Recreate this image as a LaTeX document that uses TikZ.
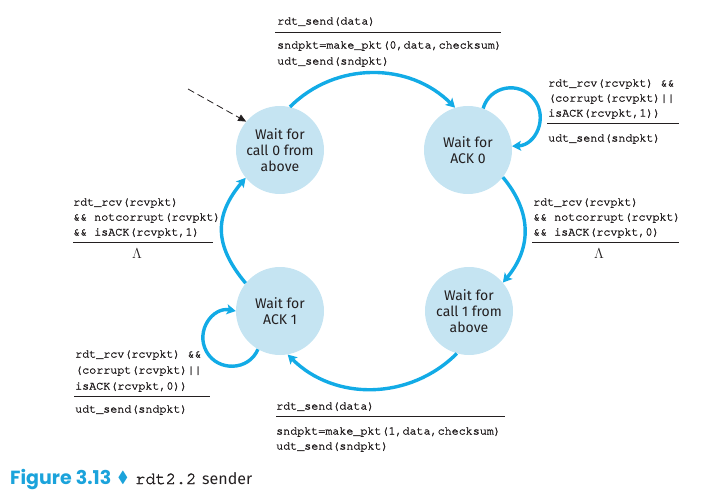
\documentclass[tikz,border=0pt]{standalone}
\usepackage{fontspec}
\usepackage{amssymb}
\usetikzlibrary{arrows.meta}
\newfontfamily\monof{TeX Gyre Cursor}[FakeBold=2]
\newfontfamily\sansf{Fira Sans}
\newfontfamily\capf{Poppins}
\definecolor{arrowblue}{HTML}{12ABE6}
\definecolor{capblue}{HTML}{1BA3DB}
\definecolor{stfill}{HTML}{C5E4F2}
\definecolor{ink}{HTML}{231F20}
\begin{document}
\begin{tikzpicture}[x=1pt,y=1pt,
  state/.style={circle,fill=stfill,minimum size=88pt,inner sep=0pt,align=center,
    font=\sansf\fontsize{14}{16}\selectfont,text=ink},
  trans/.style={draw=arrowblue,line width=3.4pt,-{Stealth[length=9pt,width=10pt,inset=2pt]}},
  code/.style={anchor=base west,inner sep=0pt,font=\monof\fontsize{11.7}{15}\selectfont,text=ink},
  rulel/.style={draw=ink,line width=0.8pt},
  lam/.style={anchor=base,inner sep=0pt,font=\fontsize{14}{14}\selectfont,text=ink},
  capt/.style={anchor=base west,inner sep=0pt}]
\useasboundingbox (0,0) rectangle (715,491);
% states
\node[state] (c0) at (280,341) {Wait for\\call 0 from\\above};
\node[state] (c1) at (468,341) {Wait for\\ACK 0};
\node[state] (c2) at (280,180) {Wait for\\ACK 1};
\node[state] (c3) at (469,180) {Wait for\\call 1 from\\above};
% loop waypoints
\coordinate (k1) at (533.9,391.9);
\coordinate (k2) at (206.4,139.6);
% transitions
\draw[trans] (c0.77) to[out=45,in=135] (c1.107);
\draw[trans] (c1.-38) to[out=-50,in=50,looseness=1.1] (c3.40);
\draw[trans] (c3.-106) to[out=-135,in=-45] (c2.-80);
\draw[trans] (c2.141) to[out=130,in=230,looseness=1.2] (c0.219);
\draw[trans] (c1.70) .. controls (489.5,405.1) and (519.3,410.6) .. (k1)
  .. controls (548.5,373.2) and (535.7,345.8) .. (c1.5);
\draw[trans] (c2.-120) .. controls (249.0,120.1) and (217.7,118.9) .. (k2)
  .. controls (195.1,160.3) and (212.8,184.3) .. (c2.180);
% initial arrow
\coordinate (init) at (188,402);
\draw[ink,line width=0.8pt,dash pattern=on 7pt off 4pt,-{Triangle[length=8pt,width=7pt]}] (init) -- (c0.140);
% top label
\node[code] (t1) at (277,466.5) {rdt\_send(data)};
\draw[rulel] (275,459) -- (501,459);
\node[code] (t2) at (277,442.5) {sndpkt=make\_pkt(0,data,checksum)};
\node[code] (t3) at (277,426.5) {udt\_send(sndpkt)};
% right-top label
\node[code] (r1) at (548,404.5) {rdt\_rcv(rcvpkt) \&\&};
\node[code] (r2) at (548,389.5) {(corrupt(rcvpkt)||};
\node[code] (r3) at (548,374.5) {isACK(rcvpkt,1))};
\draw[rulel] (547,368) -- (679,368);
\node[code] (r4) at (548,349.5) {udt\_send(sndpkt)};
% right-mid label
\node[code] (m1) at (533,285.5) {rdt\_rcv(rcvpkt)};
\node[code] (m2) at (533,270.5) {\&\& notcorrupt(rcvpkt)};
\node[code] (m3) at (533,255.5) {\&\& isACK(rcvpkt,0)};
\draw[rulel] (532,249) -- (679,249);
\node[lam] (m4) at (599,233) {$\Lambda$};
% left-mid label
\node[code] (l1) at (73,285.5) {rdt\_rcv(rcvpkt)};
\node[code] (l2) at (73,270.5) {\&\& notcorrupt(rcvpkt)};
\node[code] (l3) at (73,255.5) {\&\& isACK(rcvpkt,1)};
\draw[rulel] (73,249) -- (213,249);
\node[lam] (l4) at (137,233) {$\Lambda$};
% left-bottom label
\node[code] (b1) at (75,133.5) {rdt\_rcv(rcvpkt) \&\&};
\node[code] (b2) at (75,117.5) {(corrupt(rcvpkt)||};
\node[code] (b3) at (75,101.5) {isACK(rcvpkt,0))};
\draw[rulel] (74,95) -- (210,95);
\node[code] (b4) at (75,78.5) {udt\_send(sndpkt)};
% bottom label
\node[code] (u1) at (276,81.5) {rdt\_send(data)};
\draw[rulel] (276,75) -- (505,75);
\node[code] (u2) at (276,56.5) {sndpkt=make\_pkt(1,data,checksum)};
\node[code] (u3) at (276,41.5) {udt\_send(sndpkt)};
% caption
\node[capt,font=\capf\bfseries\fontsize{19}{20}\selectfont,text=capblue] (cap1) at (10,7) {Figure 3.13};
\node[inner sep=0pt,text=capblue,font=\fontsize{16}{16}\selectfont] (cap2) at (123,13) {$\blacklozenge$};
\node[capt,font=\monof\fontsize{17}{20}\selectfont,text=ink] (cap3) at (135,7) {rdt2.2};
\node[capt,font=\sansf\fontsize{16}{20}\selectfont,text=ink] (cap4) at (202,7) {sender};
\end{tikzpicture}
\end{document}
